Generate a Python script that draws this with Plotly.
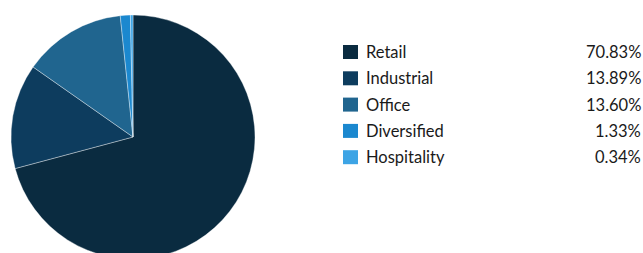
import plotly.graph_objects as go

categories = ["Retail", "Industrial", "Office", "Diversified", "Hospitality"]
values = [70.83, 13.89, 13.60, 1.33, 0.34]
value_labels = ["70.83%", "13.89%", "13.60%", "1.33%", "0.34%"]
colors = ["#0a2b40", "#0d3c5e", "#20658f", "#1b88cf", "#3da4e5"]

W, H = 643, 280
cx, cy, r = 133, 137, 122

fig = go.Figure()
fig.add_trace(go.Pie(
    labels=categories, values=values, sort=False, direction="clockwise", rotation=0,
    marker=dict(colors=colors, line=dict(color="rgba(255,255,255,0.6)", width=0.6)),
    textinfo="none", hoverinfo="label+percent", showlegend=False,
    domain=dict(x=[(cx - r) / W, (cx + r) / W], y=[1 - (cy + r) / H, 1 - (cy - r) / H]),
))

shapes = []
annotations = []
row0, step = 52, 26.3
font = dict(family="Lato, Open Sans, sans-serif", size=16.5, color="#1a1a1a")
for i, (c, lab, v) in enumerate(zip(categories, value_labels, colors)):
    y = row0 + i * step
    shapes.append(dict(type="rect", xref="paper", yref="paper",
                       x0=343 / W, x1=358 / W, y0=1 - (y + 7) / H, y1=1 - (y - 7) / H,
                       fillcolor=v, line=dict(width=0)))
    annotations.append(dict(x=364 / W, y=1 - y / H, xref="paper", yref="paper", text=c,
                            showarrow=False, xanchor="left", yanchor="middle", font=font))
    annotations.append(dict(x=643 / W, y=1 - y / H, xref="paper", yref="paper", text=lab,
                            showarrow=False, xanchor="right", yanchor="middle", font=font))

fig.update_layout(width=W, height=H, margin=dict(l=0, r=0, t=0, b=0),
                  paper_bgcolor="white", plot_bgcolor="white",
                  shapes=shapes, annotations=annotations)

fig.write_html("out.html", config={"displayModeBar": False},
               post_script="document.body.style.margin='0';document.body.style.overflow='hidden';document.documentElement.style.overflow='hidden';")
